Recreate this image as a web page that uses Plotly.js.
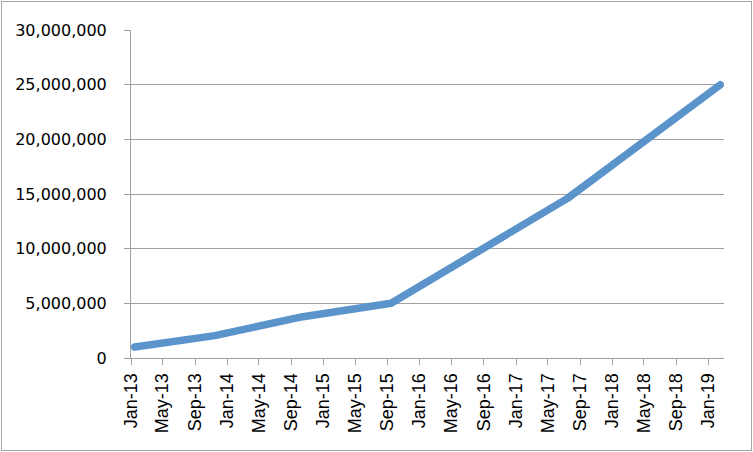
<!DOCTYPE html>
<html>
<head>
<meta charset="utf-8">
<script src="https://cdn.plot.ly/plotly-3.0.1.min.js"></script>
<style>
  body { margin: 0; background: #fff; }
  #chart { width: 749px; height: 448px; margin: 1px; border: 1px solid #a6a6a6; }
  #chart .js-line { stroke-linecap: round; stroke-linejoin: round; }
</style>
</head>
<body>
<div id="chart"></div>
<script>
// values
const dates = ['2013-01-15', '2013-11-15', '2014-10-15', '2015-09-15', '2017-07-15', '2019-02-15'];
const totals = [1000000, 2050000, 3780000, 5000000, 14600000, 25000000];

const data = [
    {
        x: dates,
        y: totals,
        type: 'scatter',
        mode: 'lines',
        line: {
            color: '#5b93cb',
            width: 7.5
        },
        hoverinfo: 'skip'
    }
];

const layout = {
    width: 749,
    height: 448,
    margin: { l: 129, r: 27, t: 28, b: 92 },
    paper_bgcolor: 'white',
    plot_bgcolor: 'white',
    showlegend: false,
    xaxis: {
        type: 'date',
        range: ['2013-01-01', '2019-03-01'],
        tick0: '2013-01-01',
        dtick: 'M4',
        tickformat: '%b-%y',
        tickangle: -90,
        ticks: 'outside',
        ticklen: 6,
        tickcolor: '#a0a0a0',
        ticklabelstandoff: 1,
        showgrid: false,
        showline: true,
        linecolor: '#a0a0a0',
        linewidth: 1,
        zeroline: false,
        tickfont: { family: 'Liberation Sans, Arial, sans-serif', size: 18, color: '#000' }
    },
    yaxis: {
        range: [0, 30000000],
        dtick: 5000000,
        tickformat: ',d',
        ticks: 'outside',
        ticklen: 6,
        tickcolor: '#a0a0a0',
        ticklabelstandoff: 14,
        showgrid: true,
        gridcolor: '#a0a0a0',
        gridwidth: 1,
        showline: true,
        linecolor: '#a0a0a0',
        linewidth: 1,
        zeroline: false,
        tickfont: { family: 'DejaVu Sans, sans-serif', size: 16, color: '#000' }
    }
};

Plotly.newPlot('chart', data, layout, { staticPlot: true });
</script>
</body>
</html>
